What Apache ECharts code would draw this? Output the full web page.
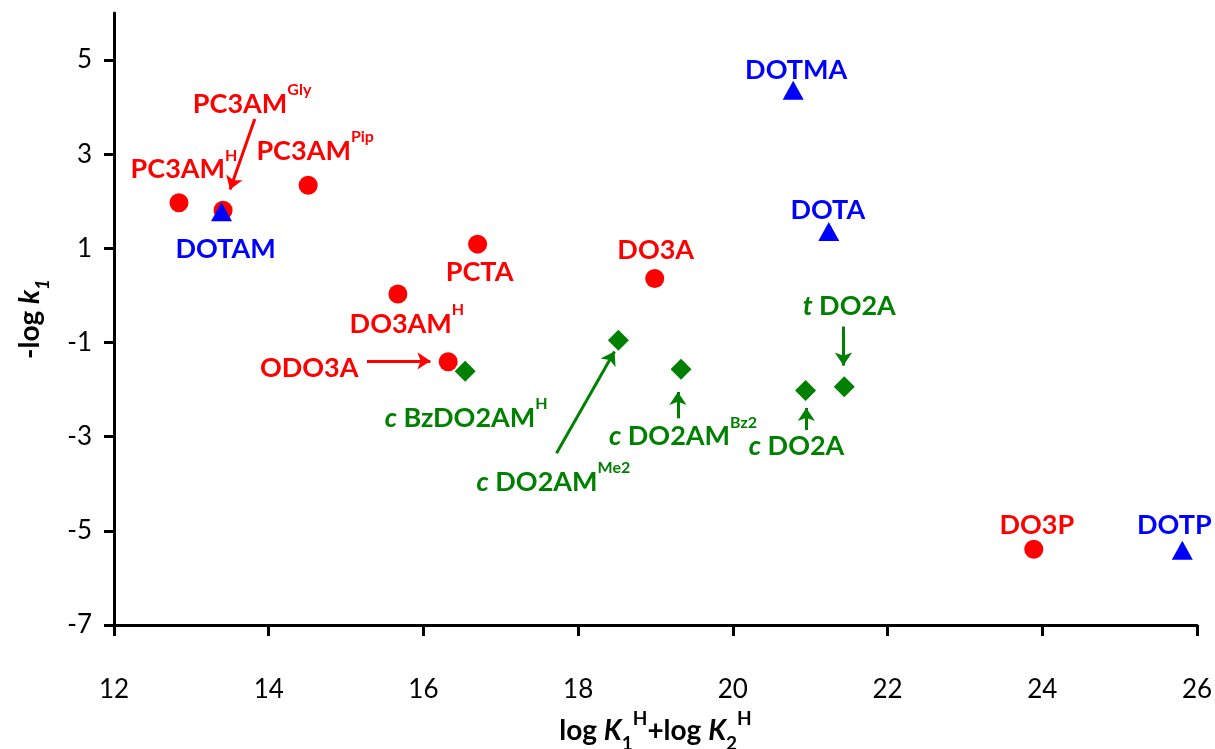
<!DOCTYPE html>
<html>
<head>
<meta charset="utf-8">
<title>Dissociation rate vs. basicity</title>
<script src="https://cdn.jsdelivr.net/npm/echarts@6.0.0/dist/echarts.min.js"></script>
<style>
  html, body { margin: 0; padding: 0; background: #fff; }
  #chart { width: 1215px; height: 749px; }
</style>
</head>
<body>
<div id="chart"></div>
<script>
// ---- data ----
// log K1H + log K2H (x) and -log k1 (y) for each ligand
const redNames = ['PC3AM', 'PC3AM', 'PC3AM', 'PCTA', 'DO3AM', 'ODO3A', 'DO3A', 'DO3P'];
const redSup   = ['H', 'Gly', 'Pip', '', 'H', '', '', ''];
const redX     = [12.84, 13.41, 14.51, 16.70, 15.67, 16.32, 18.99, 23.89];
const redY     = [1.97, 1.81, 2.34, 1.09, 0.03, -1.41, 0.36, -5.39];

const blueNames = ['DOTAM', 'DOTMA', 'DOTA', 'DOTP'];
const blueX     = [13.39, 20.78, 21.24, 25.81];
const blueY     = [1.78, 4.36, 1.36, -5.41];

const greenPrefix = ['c', 'c', 'c', 'c', 't'];
const greenNames  = [' BzDO2AM', ' DO2AM', ' DO2AM', ' DO2A', ' DO2A'];
const greenSup    = ['H', 'Me2', 'Bz2', '', ''];
const greenX      = [16.54, 18.52, 19.33, 20.94, 21.44];
const greenY      = [-1.61, -0.95, -1.57, -2.02, -1.94];

// pointer arrows, [from, to] in axis units
const redArrows = [
  [[13.82, 3.75], [13.50, 2.25]],
  [[15.27, -1.39], [16.09, -1.39]]
];
const greenArrows = [
  [[17.72, -3.35], [18.47, -1.19]],
  [[19.29, -2.61], [19.29, -2.05]],
  [[20.95, -2.86], [20.95, -2.39]],
  [[21.43, -0.66], [21.43, -1.49]]
];

const yTicks = [-7, -5, -3, -1, 1, 3, 5];

// ---- styling ----
const RED = '#ff0000', BLUE = '#0000ff', GREEN = '#008000';
const FONT = 'Lato, "Open Sans", sans-serif';

function richFor(color) {
  return {
    m: { fontFamily: FONT, fontWeight: 'bold', fontSize: 27, color: color, lineHeight: 44 },
    i: { fontFamily: FONT, fontWeight: 'bold', fontStyle: 'italic', fontSize: 27, color: color, lineHeight: 44 },
    s: { fontFamily: FONT, fontWeight: 'bold', fontSize: 16, color: color, lineHeight: 16, verticalAlign: 'top' }
  };
}

// label placement relative to each marker (pixels)
const redOffsets   = [[5, -33], [29, -106], [7, -34], [2, 28], [9, 30], [-139, 6], [1, -28], [3, -24]];
const blueOffsets  = [[4, 38], [3, -20], [-1, -21], [-8, -25]];
const greenOffsets = [[1, 47], [-65, 142], [2, 67], [-9, 56], [5, -80]];

function labelText(prefix, name, sup) {
  return (prefix ? '{i|' + prefix + '}' : '') + '{m|' + name + '}' + (sup ? '{s|' + sup + '}' : '');
}

function buildPoints(xs, ys, names, sups, prefixes, offsets, color) {
  return xs.map(function (x, k) {
    return {
      value: [x, ys[k]],
      label: {
        show: true,
        position: 'inside',
        offset: offsets[k],
        formatter: labelText(prefixes ? prefixes[k] : '', names[k], sups ? sups[k] : ''),
        rich: richFor(color)
      }
    };
  });
}

function arrowLines(list) {
  return list.map(function (a) {
    return [{ coord: a[0] }, { coord: a[1] }];
  });
}

const chart = echarts.init(document.getElementById('chart'), null, { renderer: 'canvas' });

const option = {
  animation: false,
  backgroundColor: '#ffffff',
  grid: { left: 114, right: 18, top: 13, bottom: 124, containLabel: false, outerBoundsMode: 'none' },
  xAxis: {
    type: 'value',
    min: 12, max: 26, interval: 2,
    axisLine: { show: true, onZero: false, lineStyle: { color: '#000', width: 3 } },
    axisTick: { show: true, length: 11, lineStyle: { color: '#000', width: 3 } },
    axisLabel: { fontFamily: FONT, fontSize: 26, color: '#000', margin: 52 },
    splitLine: { show: false },
    name: '{b|log }{bi|K}{sub|1}{sup|H}{b|+log }{bi|K}{sub|2}{sup|H}',
    nameLocation: 'middle',
    nameGap: 84,
    nameTextStyle: {
      rich: {
        b:   { fontFamily: FONT, fontWeight: 'bold', fontSize: 28, color: '#000', lineHeight: 44 },
        bi:  { fontFamily: FONT, fontWeight: 'bold', fontStyle: 'italic', fontSize: 28, color: '#000', lineHeight: 44 },
        sub: { fontFamily: FONT, fontWeight: 'bold', fontSize: 19, color: '#000', lineHeight: 19, verticalAlign: 'bottom' },
        sup: { fontFamily: FONT, fontWeight: 'bold', fontSize: 19, color: '#000', lineHeight: 19, verticalAlign: 'top' }
      }
    }
  },
  yAxis: {
    type: 'value',
    min: -7, max: 6,
    axisLine: { show: true, onZero: false, lineStyle: { color: '#000', width: 3 } },
    axisTick: { show: true, length: 10, lineStyle: { color: '#000', width: 3 }, customValues: yTicks },
    axisLabel: { fontFamily: FONT, fontSize: 26, color: '#000', margin: 22, customValues: yTicks },
    splitLine: { show: false },
    name: '{b|-log }{bi|k}{sub|1}',
    nameLocation: 'middle',
    nameRotate: 90,
    nameGap: 62,
    nameTextStyle: {
      rich: {
        b:   { fontFamily: FONT, fontWeight: 'bold', fontSize: 28, color: '#000', lineHeight: 44 },
        bi:  { fontFamily: FONT, fontWeight: 'bold', fontStyle: 'italic', fontSize: 28, color: '#000', lineHeight: 44 },
        sub: { fontFamily: FONT, fontWeight: 'bold', fontStyle: 'italic', fontSize: 19, color: '#000', lineHeight: 19, verticalAlign: 'bottom' }
      }
    }
  },
  series: [
    {
      name: 'DO2A family',
      type: 'scatter',
      symbol: 'diamond',
      symbolSize: [21, 21],
      itemStyle: { color: GREEN, opacity: 1 },
      data: buildPoints(greenX, greenY, greenNames, greenSup, greenPrefix, greenOffsets, GREEN),
      markLine: {
        silent: true,
        symbol: ['none', 'arrow'],
        symbolSize: 13,
        label: { show: false },
        lineStyle: { color: GREEN, width: 3, type: 'solid', opacity: 1 },
        emphasis: { disabled: true },
        data: arrowLines(greenArrows)
      }
    },
    {
      name: 'DO3A family',
      type: 'scatter',
      symbol: 'circle',
      symbolSize: 19,
      itemStyle: { color: RED, opacity: 1 },
      data: buildPoints(redX, redY, redNames, redSup, null, redOffsets, RED),
      markLine: {
        silent: true,
        symbol: ['none', 'arrow'],
        symbolSize: 13,
        label: { show: false },
        lineStyle: { color: RED, width: 3, type: 'solid', opacity: 1 },
        emphasis: { disabled: true },
        data: arrowLines(redArrows)
      }
    },
    {
      name: 'DOTA family',
      type: 'scatter',
      symbol: 'triangle',
      symbolSize: [21, 19],
      itemStyle: { color: BLUE, opacity: 1 },
      data: buildPoints(blueX, blueY, blueNames, null, null, blueOffsets, BLUE)
    }
  ]
};

chart.setOption(option);
</script>
</body>
</html>
